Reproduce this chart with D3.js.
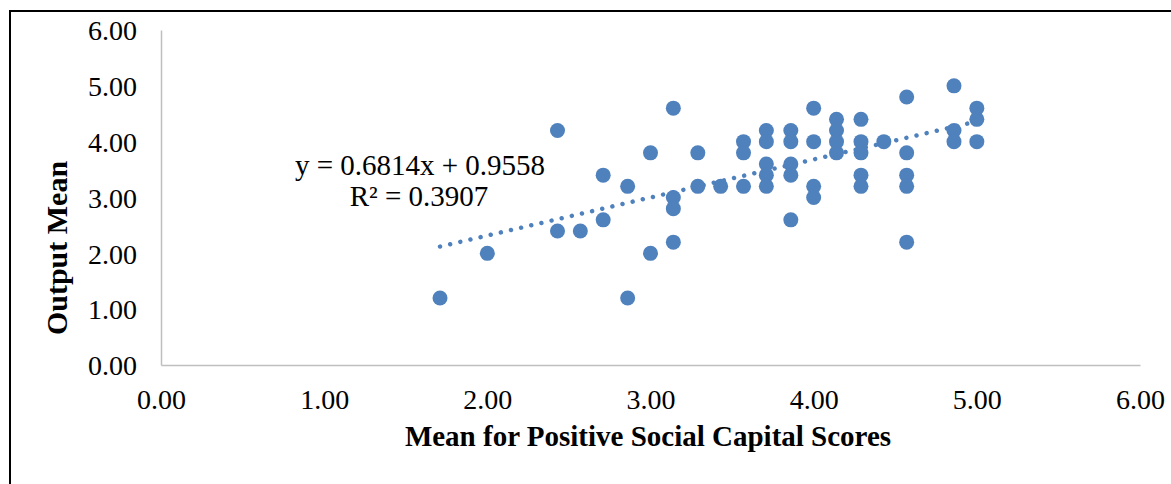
<!DOCTYPE html>
<html>
<head>
<meta charset="utf-8">
<script src="https://cdn.jsdelivr.net/npm/d3@7"></script>
<style>
  html, body { margin: 0; padding: 0; background: #ffffff; }
  svg { display: block; }
  text { font-family: "Liberation Serif", "Times New Roman", serif; fill: #000; }
</style>
</head>
<body>
<svg id="chart" width="1171" height="484"></svg>
<script>
// ---- data ----
const socialCapitalMean = [1.71, 2.00, 2.43, 2.43, 2.57, 2.71, 2.71, 2.86, 2.86, 3.00, 3.00,
  3.14, 3.14, 3.14, 3.14, 3.29, 3.29, 3.43, 3.57, 3.57, 3.57,
  3.71, 3.71, 3.71, 3.71, 3.71, 3.86, 3.86, 3.86, 3.86, 3.86,
  4.00, 4.00, 4.00, 4.00, 4.14, 4.14, 4.14, 4.14,
  4.29, 4.29, 4.29, 4.29, 4.29, 4.43,
  4.57, 4.57, 4.57, 4.57, 4.57, 4.86, 4.86, 4.86, 5.00, 5.00, 5.00];
const outputMean = [1.2, 2.0, 4.2, 2.4, 2.4, 3.4, 2.6, 3.2, 1.2, 3.8, 2.0,
  4.6, 3.0, 2.8, 2.2, 3.8, 3.2, 3.2, 4.0, 3.8, 3.2,
  4.2, 4.0, 3.6, 3.4, 3.2, 4.2, 4.0, 3.6, 3.4, 2.6,
  4.6, 4.0, 3.2, 3.0, 4.4, 4.2, 4.0, 3.8,
  4.4, 4.0, 3.8, 3.4, 3.2, 4.0,
  4.8, 3.8, 3.4, 3.2, 2.2, 5.0, 4.2, 4.0, 4.6, 4.4, 4.0];
const xTicks = [0, 1, 2, 3, 4, 5, 6];
const yTicks = [0, 1, 2, 3, 4, 5, 6];
const trendSlope = [0.6814];
const trendIntercept = [0.9558];
const equationLabels = ["y = 0.6814x + 0.9558", "R² = 0.3907"];
const xTitle = "Mean for Positive Social Capital Scores";
const yTitle = "Output Mean";

// ---- layout ----
const svg = d3.select("#chart");
const x = d3.scaleLinear().domain([0, 6]).range([161, 1140]);
const y = d3.scaleLinear().domain([0, 6]).range([365, 30]);
const blue = "#4f81bd";

// frame (left + top border)
svg.append("path")
  .attr("d", "M10,484 L10,11 L1171,11")
  .attr("fill", "none").attr("stroke", "#000").attr("stroke-width", 2);

// axes
const xAxis = d3.axisBottom(x).tickValues(xTicks).tickFormat(d3.format(".2f")).tickSize(0).tickPadding(0);
const yAxis = d3.axisLeft(y).tickValues(yTicks).tickFormat(d3.format(".2f")).tickSize(0).tickPadding(0);

const gx = svg.append("g").attr("transform", `translate(0,${y(0)})`).call(xAxis);
gx.select(".domain").attr("stroke", "#bfbfbf").attr("stroke-width", 1.5);
gx.selectAll("text")
  .attr("font-family", "Liberation Serif, Times New Roman, serif")
  .attr("font-size", 28).attr("fill", "#000")
  .attr("dy", null).attr("y", 44);

const gy = svg.append("g").attr("transform", `translate(${x(0)},0)`).call(yAxis);
gy.select(".domain").attr("stroke", "#bfbfbf").attr("stroke-width", 1.5);
gy.selectAll("text")
  .attr("font-family", "Liberation Serif, Times New Roman, serif")
  .attr("font-size", 28).attr("fill", "#000")
  .attr("x", -24).attr("dy", "0.35em");

// points
const pts = socialCapitalMean.map((v, i) => ({ sx: v, oy: outputMean[i] }));
svg.append("g").selectAll("circle")
  .data(pts).join("circle")
  .attr("cx", d => x(d.sx))
  .attr("cy", d => y(d.oy))
  .attr("r", 7.5)
  .attr("fill", blue);

// linear trendline (dotted)
const xMin = d3.min(socialCapitalMean), xMax = d3.max(socialCapitalMean);
const trend = [xMin, xMax].map(v => [v, trendSlope[0] * v + trendIntercept[0]]);
svg.append("path")
  .attr("d", d3.line().x(d => x(d[0])).y(d => y(d[1]))(trend))
  .attr("fill", "none")
  .attr("stroke", blue)
  .attr("stroke-width", 4.5)
  .attr("stroke-linecap", "round")
  .attr("stroke-dasharray", "0.01 10.4");

// equation label
svg.append("text").attr("x", 420).attr("y", 175).attr("text-anchor", "middle")
  .attr("font-size", 29).text(equationLabels[0]);
svg.append("text").attr("x", 419).attr("y", 206).attr("text-anchor", "middle")
  .attr("font-size", 29).text(equationLabels[1]);

// axis titles
svg.append("text").attr("x", 648).attr("y", 446).attr("text-anchor", "middle")
  .attr("font-size", 29).attr("font-weight", "bold").text(xTitle);
svg.append("text").attr("transform", "translate(67,248) rotate(-90)")
  .attr("text-anchor", "middle")
  .attr("font-size", 30).attr("font-weight", "bold").text(yTitle);
</script>
</body>
</html>
